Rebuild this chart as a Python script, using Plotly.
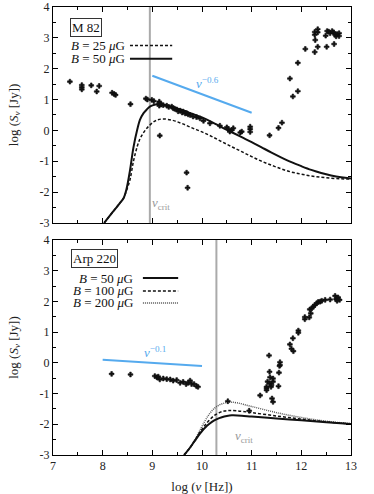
import plotly.graph_objects as go

# ---------------- data: M 82 (top panel) ----------------
m82_obs_x = [7.34, 7.58, 7.58, 7.58, 7.77, 7.88, 7.93, 8.19, 8.23, 8.26, 8.56, 8.87, 8.90,
             8.99, 9.03, 9.14, 9.14, 9.14, 9.15, 9.18, 9.22, 9.29, 9.33, 9.39, 9.42, 9.45, 9.49,
             9.52, 9.56, 9.60, 9.62, 9.66, 9.69, 9.72, 9.76, 9.82, 9.89, 9.96, 10.03, 10.16,
             10.36, 10.50, 10.53, 10.56, 10.60, 10.63, 10.77, 10.80, 10.97, 10.97, 10.97,
             9.15, 9.69, 9.71,
             11.36, 11.54, 11.61, 11.77, 11.83, 11.93, 11.93, 12.08, 12.27, 12.28, 12.27,
             12.27, 12.33, 12.33, 12.33, 12.51, 12.49, 12.52, 12.55, 12.58, 12.62, 12.65,
             12.68, 12.70, 12.72, 12.66, 12.76, 12.76]
m82_obs_y = [1.58, 1.47, 1.40, 1.33, 1.46, 1.26, 1.44, 1.22, 1.18, 1.15, 0.85, 1.03, 1.00,
             0.99, 0.95, 0.93, 0.88, 0.80, 0.86, 0.84, 0.82, 0.80, 0.76, 0.77, 0.72, 0.70, 0.68,
             0.62, 0.64, 0.58, 0.61, 0.55, 0.56, 0.52, 0.50, 0.45, 0.43, 0.39, 0.31, 0.23,
             0.15, 0.10, 0.04, -0.04, 0.01, 0.07, -0.07, -0.04, 0.12, 0.04, -0.05,
             -0.17, -1.37, -1.86,
             -0.16, 0.08, 0.25, 1.68, 1.10, 1.27, 2.19, 2.64, 2.54, 2.93, 3.10,
             3.19, 3.28, 3.18, 2.71, 2.71, 3.07, 3.22, 3.20, 3.15, 3.22, 3.18,
             3.10, 3.05, 3.12, 2.80, 3.15, 3.06]

m82_model_x = [8.03, 8.20, 8.35, 8.42, 8.48, 8.55, 8.62, 8.70, 8.75, 8.82, 8.89, 8.95, 9.02,
               9.09, 9.20, 9.40, 9.60, 9.80, 10.0, 10.2, 10.4, 10.6, 10.8, 11.0, 11.2, 11.4,
               11.6, 11.8, 12.0, 12.2, 12.4, 12.6, 12.8, 13.0]
m82_B50 = [-3.0, -2.65, -2.35, -2.20, -1.90, -1.30, -0.55, 0.05, 0.34, 0.55, 0.68, 0.77, 0.82,
           0.85, 0.84, 0.76, 0.66, 0.54, 0.42, 0.27, 0.10, -0.06, -0.22, -0.38, -0.55, -0.72,
           -0.88, -1.03, -1.16, -1.28, -1.38, -1.46, -1.52, -1.56]
m82_B25 = [-3.0, -2.65, -2.35, -2.20, -1.95, -1.60, -1.00, -0.50, -0.28, -0.08, 0.07, 0.17, 0.27,
           0.33, 0.37, 0.33, 0.22, 0.08, -0.05, -0.20, -0.37, -0.53, -0.69, -0.85, -1.00, -1.13,
           -1.25, -1.35, -1.42, -1.48, -1.52, -1.55, -1.57, -1.58]

m82_pl_x = [9.0, 11.0]
m82_pl_y = [1.77, 0.57]
m82_nucrit = 8.95

# ---------------- data: Arp 220 (bottom panel) ----------------
arp_obs_x = [8.18, 8.56, 9.05, 9.09, 9.12, 9.15, 9.22, 9.29, 9.36, 9.42, 9.49, 9.56, 9.62, 9.68,
             9.72, 9.76, 9.79, 9.84, 9.89, 9.92,
             10.52, 10.95, 11.17, 11.30, 11.30, 11.30, 11.32, 11.35, 11.36, 11.36, 11.37,
             11.39, 11.40, 11.43, 11.43, 11.41, 11.43, 11.54, 11.55, 11.56, 11.57, 11.57,
             11.77, 11.80, 11.84, 11.83, 11.94, 11.94, 12.07, 12.07, 12.16, 12.19, 12.17,
             12.21, 12.24, 12.27, 12.31, 12.34, 12.38, 12.41, 12.48, 12.58, 12.68, 12.70,
             12.72, 12.74, 12.72, 12.77]
arp_obs_y = [-0.36, -0.38, -0.43, -0.47, -0.45, -0.54, -0.51, -0.53, -0.54, -0.58, -0.56, -0.65,
             -0.62, -0.69, -0.65, -0.58, -0.69, -0.69, -0.76, -0.78,
             -1.25, -1.56, -1.06, -0.78, -0.83, -0.89, -0.61, 0.24, -0.29, -0.67, -0.47,
             -0.78, -0.72, -0.51, -0.61, -1.16, -1.27, -0.76, -0.32, -0.10, -0.07, 0.02,
             0.60, 0.46, 0.38, 0.80, 1.05, 0.98, 1.42, 1.49, 1.48, 1.61, 1.74,
             1.77, 1.83, 1.88, 1.94, 1.98, 1.99, 2.02, 2.05, 2.06, 2.18, 2.07,
             2.10, 2.13, 2.02, 2.05]

arp_B50_x = [9.64, 9.75, 9.85, 9.96, 10.1, 10.2, 10.3, 10.4, 10.5, 10.6, 10.8, 11.0, 11.5, 12.0, 12.5, 13.0]
arp_B50_y = [-3.0, -2.78, -2.55, -2.30, -2.05, -1.92, -1.83, -1.77, -1.73, -1.71, -1.72, -1.75, -1.81, -1.87, -1.93, -1.99]
arp_B100_x = [9.64, 9.75, 9.85, 9.96, 10.05, 10.15, 10.25, 10.35, 10.45, 10.55, 10.7, 11.0, 11.5, 12.0, 12.5, 13.0]
arp_B100_y = [-3.0, -2.78, -2.55, -2.26, -2.05, -1.86, -1.71, -1.62, -1.57, -1.55, -1.56, -1.62, -1.73, -1.83, -1.92, -1.99]
arp_B200_x = [9.64, 9.75, 9.85, 9.95, 10.05, 10.15, 10.25, 10.35, 10.45, 10.55, 10.7, 11.0, 11.5, 12.0, 12.5, 13.0]
arp_B200_y = [-3.0, -2.78, -2.52, -2.22, -1.92, -1.66, -1.48, -1.37, -1.31, -1.28, -1.30, -1.42, -1.62, -1.78, -1.90, -1.98]

arp_pl_x = [8.0, 10.0]
arp_pl_y = [0.10, -0.10]
arp_nucrit = 10.29

x_ticks = [7, 8, 9, 10, 11, 12, 13]
y_ticks = [-3, -2, -1, 0, 1, 2, 3, 4]

# ---------------- styles ----------------
FONT = "Liberation Serif"
BLUE = "#55aaee"
GRAY = "#aaaaaa"
BLACK = "#111111"
MARK = dict(symbol="cross", size=4, color=BLACK, line=dict(color=BLACK, width=0.6))

fig = go.Figure()

# top panel
fig.add_trace(go.Scatter(x=[m82_nucrit, m82_nucrit], y=[-3, 4], mode="lines",
                         line=dict(color=GRAY, width=2), xaxis="x", yaxis="y", showlegend=False))
fig.add_trace(go.Scatter(x=m82_pl_x, y=m82_pl_y, mode="lines", line=dict(color=BLUE, width=2),
                         xaxis="x", yaxis="y", showlegend=False))
fig.add_trace(go.Scatter(x=m82_model_x, y=m82_B25, mode="lines",
                         line=dict(color=BLACK, width=1.5, dash="3px,2px", shape="spline"),
                         xaxis="x", yaxis="y", showlegend=False))
fig.add_trace(go.Scatter(x=m82_model_x, y=m82_B50, mode="lines",
                         line=dict(color=BLACK, width=2, shape="spline"),
                         xaxis="x", yaxis="y", showlegend=False))
fig.add_trace(go.Scatter(x=m82_obs_x, y=m82_obs_y, mode="markers", marker=MARK,
                         xaxis="x", yaxis="y", showlegend=False))

# bottom panel
fig.add_trace(go.Scatter(x=[arp_nucrit, arp_nucrit], y=[-3, 4], mode="lines",
                         line=dict(color=GRAY, width=2), xaxis="x2", yaxis="y2", showlegend=False))
fig.add_trace(go.Scatter(x=arp_pl_x, y=arp_pl_y, mode="lines", line=dict(color=BLUE, width=2),
                         xaxis="x2", yaxis="y2", showlegend=False))
fig.add_trace(go.Scatter(x=arp_B200_x, y=arp_B200_y, mode="lines",
                         line=dict(color="#555555", width=1.5, dash="1px,1px", shape="spline"),
                         xaxis="x2", yaxis="y2", showlegend=False))
fig.add_trace(go.Scatter(x=arp_B100_x, y=arp_B100_y, mode="lines",
                         line=dict(color=BLACK, width=1.5, dash="3px,2px", shape="spline"),
                         xaxis="x2", yaxis="y2", showlegend=False))
fig.add_trace(go.Scatter(x=arp_B50_x, y=arp_B50_y, mode="lines",
                         line=dict(color=BLACK, width=2, shape="spline"),
                         xaxis="x2", yaxis="y2", showlegend=False))
fig.add_trace(go.Scatter(x=arp_obs_x, y=arp_obs_y, mode="markers", marker=MARK,
                         xaxis="x2", yaxis="y2", showlegend=False))

axis_common = dict(range=[7, 13], showline=True, linecolor="black", linewidth=1, mirror="ticks",
                   ticks="inside", ticklen=5, tickcolor="black", showgrid=False, zeroline=False,
                   automargin=False,
                   tickvals=x_ticks, ticktext=[str(v) for v in x_ticks],
                   minor=dict(ticks="inside", ticklen=3, dtick=0.5, tickcolor="black"),
                   tickfont=dict(family=FONT, size=12, color="#222"))
yaxis_common = dict(range=[-3, 4], showline=True, linecolor="black", linewidth=1, mirror="ticks",
                    ticks="inside", ticklen=5, tickcolor="black", showgrid=False, zeroline=False,
                    automargin=False,
                    tickvals=y_ticks, ticktext=[str(v) for v in y_ticks],
                    minor=dict(ticks="inside", ticklen=3, dtick=0.5, tickcolor="black"),
                    tickfont=dict(family=FONT, size=12, color="#222"),
                    title=dict(text="log (<i>S<sub>ν</sub></i> [Jy])", standoff=18,
                               font=dict(family=FONT, size=13, color="#222")))

fig.update_layout(
    width=374, height=494,
    margin=dict(l=53, r=23, t=7, b=39),
    plot_bgcolor="white", paper_bgcolor="white",
    xaxis=dict(axis_common, anchor="y", showticklabels=False),
    yaxis=dict(yaxis_common, domain=[0.518, 1.0], anchor="x"),
    xaxis2=dict(axis_common, anchor="y2",
                title=dict(text="log (<i>ν</i> [Hz])", standoff=11,
                           font=dict(family=FONT, size=13, color="#222"))),
    yaxis2=dict(yaxis_common, domain=[0.0, 0.48], anchor="x2"),
)

tf = dict(family=FONT, size=13, color="#111")
S = "&nbsp;"
def blabel(v):
    return "<i>B</i>" + S + "=" + S + str(v) + S + "<i>μ</i>G"

anns = [
    # top panel
    dict(x=7.67, y=3.35, xref="x", yref="y", text="M" + S + "82", showarrow=False, font=tf,
         bordercolor="#333", borderwidth=1, borderpad=1, bgcolor="white"),
    dict(x=8.49, y=2.75, xref="x", yref="y", text=blabel(25), showarrow=False,
         font=tf, xanchor="right"),
    dict(x=8.49, y=2.32, xref="x", yref="y", text=blabel(50), showarrow=False,
         font=tf, xanchor="right"),
    dict(x=10.12, y=1.55, xref="x", yref="y", text="<i>ν</i><sup>−0.6</sup>", showarrow=False,
         font=dict(family=FONT, size=13, color=BLUE)),
    dict(x=9.18, y=-2.38, xref="x", yref="y", text="<i>ν</i><sub>crit</sub>", showarrow=False,
         font=dict(family=FONT, size=13, color="#999")),
    # bottom panel
    dict(x=7.83, y=3.40, xref="x2", yref="y2", text="Arp" + S + "220", showarrow=False, font=tf,
         bordercolor="#333", borderwidth=1, borderpad=1, bgcolor="white"),
    dict(x=8.65, y=2.76, xref="x2", yref="y2", text=blabel(50), showarrow=False,
         font=tf, xanchor="right"),
    dict(x=8.65, y=2.34, xref="x2", yref="y2", text=blabel(100), showarrow=False,
         font=tf, xanchor="right"),
    dict(x=8.65, y=1.95, xref="x2", yref="y2", text=blabel(200), showarrow=False,
         font=tf, xanchor="right"),
    dict(x=9.05, y=0.34, xref="x2", yref="y2", text="<i>ν</i><sup>−0.1</sup>", showarrow=False,
         font=dict(family=FONT, size=13, color=BLUE)),
    dict(x=10.85, y=-2.4, xref="x2", yref="y2", text="<i>ν</i><sub>crit</sub>", showarrow=False,
         font=dict(family=FONT, size=13, color="#999")),
]
fig.update_layout(annotations=anns)

shapes = [
    dict(type="line", xref="x", yref="y", x0=8.55, x1=9.40, y0=2.75, y1=2.75,
         line=dict(color=BLACK, width=1.5, dash="3px,2px")),
    dict(type="line", xref="x", yref="y", x0=8.55, x1=9.40, y0=2.32, y1=2.32,
         line=dict(color=BLACK, width=2)),
    dict(type="line", xref="x2", yref="y2", x0=8.81, x1=9.52, y0=2.76, y1=2.76,
         line=dict(color=BLACK, width=2)),
    dict(type="line", xref="x2", yref="y2", x0=8.81, x1=9.52, y0=2.34, y1=2.34,
         line=dict(color=BLACK, width=1.5, dash="3px,2px")),
    dict(type="line", xref="x2", yref="y2", x0=8.81, x1=9.52, y0=1.95, y1=1.95,
         line=dict(color="#555555", width=1.5, dash="1px,1px")),
]
fig.update_layout(shapes=shapes)

fig.write_html("out.html", config={"displayModeBar": False},
               post_script="document.body.style.margin='0';document.body.style.overflow='hidden';")
